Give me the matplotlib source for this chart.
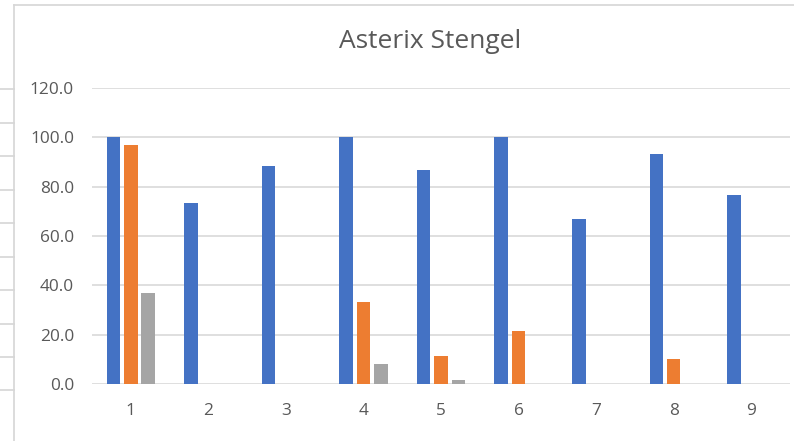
import matplotlib
matplotlib.use("Agg")
import matplotlib.pyplot as plt
from matplotlib.lines import Line2D
import numpy as np

# Chart data
categories = ["1", "2", "3", "4", "5", "6", "7", "8", "9"]
series_a = [100.0, 73.3, 88.3, 100.0, 86.7, 100.0, 66.7, 93.3, 76.7]
series_b = [96.7, 0.0, 0.0, 33.3, 11.4, 21.4, 0.0, 10.0, 0.0]
series_c = [36.7, 0.0, 0.0, 8.3, 1.6, 0.0, 0.0, 0.0, 0.0]
y_ticks = [0, 20, 40, 60, 80, 100, 120]
title_text = "Asterix Stengel"

colors = ["#4472C4", "#ED7D31", "#A5A5A5"]
text_color = "#595959"
grid_color = "#D9D9D9"
font = ["Open Sans", "DejaVu Sans"]

W, H = 794, 441
fig = plt.figure(figsize=(W / 100, H / 100), dpi=100)
fig.patch.set_facecolor("white")

# plot area in pixel terms
left_px, right_px, top_px, bottom_px = 92, 790, 88, 384
ax = fig.add_axes([left_px / W, 1 - bottom_px / H,
                   (right_px - left_px) / W, (bottom_px - top_px) / H])

x = np.arange(len(categories))
bar_w = 0.175
step = 0.224
for i, (vals, c) in enumerate(zip([series_a, series_b, series_c], colors)):
    ax.bar(x + (i - 1) * step, vals, width=bar_w, color=c, zorder=3)

ax.set_xlim(-0.5, len(categories) - 0.5)
ax.set_ylim(0, 120)
ax.set_yticks(y_ticks)
ax.set_yticklabels([f"{v:.1f}" for v in y_ticks], family=font, fontsize=12.4,
                   color=text_color)
ax.set_xticks(x)
ax.set_xticklabels(categories, family=font, fontsize=12.4, color=text_color)
ax.tick_params(axis="both", length=0)
ax.tick_params(axis="y", pad=13)
ax.tick_params(axis="x", pad=14)
for s in ax.spines.values():
    s.set_visible(False)
ax.yaxis.grid(True, color=grid_color, linewidth=1.2, zorder=0)
ax.set_axisbelow(True)

# title
fig.text(430 / W, 1 - 48 / H, title_text, family=font, fontsize=19,
         color=text_color, ha="center", va="baseline")

# chart frame and neighbouring sheet gridlines
frame_color = "#D6D6D6"
fig.add_artist(Line2D([13.5 / W, 13.5 / W], [0, 1 - 5 / H],
                      transform=fig.transFigure, color=frame_color, lw=1.2))
fig.add_artist(Line2D([13.5 / W, 1], [1 - 5 / H, 1 - 5 / H],
                      transform=fig.transFigure, color=frame_color, lw=1.2))
for yy in [89, 122.5, 156, 189.5, 223, 256.5, 290, 323.5, 357, 390]:
    fig.add_artist(Line2D([0, 13.5 / W], [1 - yy / H, 1 - yy / H],
                          transform=fig.transFigure, color=frame_color, lw=1.2))

fig.savefig("out.png", dpi=100, facecolor="white")
